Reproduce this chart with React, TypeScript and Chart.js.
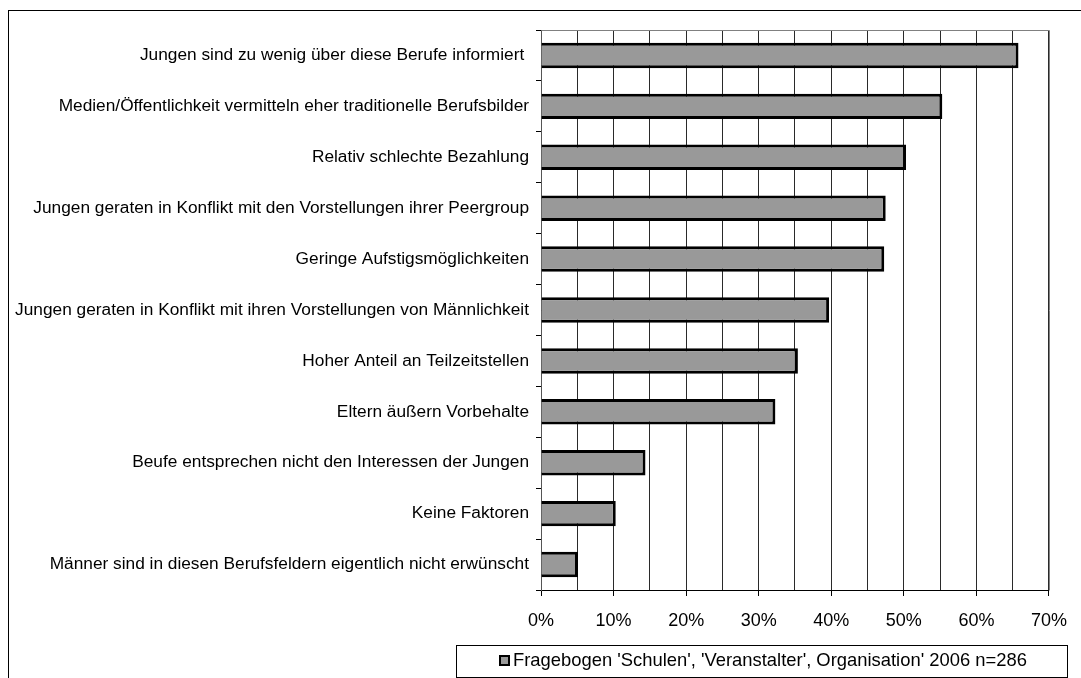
import React, { useEffect, useRef } from "react";
import { Chart, registerables } from "chart.js";

Chart.register(...registerables);

const categories = [
  "Jungen sind zu wenig über diese Berufe informiert ",
  "Medien/Öffentlichkeit vermitteln eher traditionelle Berufsbilder",
  "Relativ schlechte Bezahlung",
  "Jungen geraten in Konflikt mit den Vorstellungen ihrer Peergroup",
  "Geringe Aufstigsmöglichkeiten",
  "Jungen geraten in Konflikt mit ihren Vorstellungen von Männlichkeit",
  "Hoher Anteil an Teilzeitstellen",
  "Eltern äußern Vorbehalte",
  "Beufe entsprechen nicht den Interessen der Jungen",
  "Keine Faktoren",
  "Männer sind in diesen Berufsfeldern eigentlich nicht erwünscht",
];

const values = [65.8, 55.3, 50.3, 47.5, 47.3, 39.7, 35.4, 32.3, 14.4, 10.3, 5.1];

const seriesLabel = "Fragebogen 'Schulen', 'Veranstalter', Organisation' 2006 n=286";

const xMin = 0;
const xMax = 70;
const xStep = 5;

const FONT = "'Liberation Sans', Arial, sans-serif";

export default function App() {
  const ref = useRef<HTMLCanvasElement | null>(null);

  useEffect(() => {
    if (!ref.current) return;
    const framePlugin = {
      id: "frameAndLegend",
      afterDraw(chart: any) {
        const ctx = chart.ctx;
        const ca = chart.chartArea;
        ctx.save();
        // plot border top/right
        ctx.strokeStyle = "#808080";
        ctx.lineWidth = 1;
        ctx.beginPath();
        ctx.moveTo(Math.round(ca.left) + 0.5, Math.round(ca.top) + 0.5);
        ctx.lineTo(Math.round(ca.right) + 0.5, Math.round(ca.top) + 0.5);
        ctx.lineTo(Math.round(ca.right) + 0.5, Math.round(ca.bottom) + 0.5);
        ctx.stroke();
        // outer frame
        ctx.strokeStyle = "#000";
        ctx.strokeRect(0.5, 2.5, chart.width + 10, chart.height + 10);
        // legend
        const lx = 448, ly = 637, lw = 611, lh = 32;
        ctx.strokeStyle = "#000";
        ctx.strokeRect(lx + 0.5, ly + 0.5, lw, lh);
        ctx.fillStyle = "#999999";
        ctx.fillRect(491, 647, 11, 11);
        ctx.lineWidth = 2;
        ctx.strokeRect(492, 648, 9, 9);
        ctx.fillStyle = "#000";
        ctx.font = `18.4px ${FONT}`;
        ctx.textBaseline = "middle";
        ctx.textAlign = "left";
        ctx.fillText(seriesLabel, 505, 653);
        ctx.restore();
      },
    };

    const chart = new Chart(ref.current, {
      type: "bar",
      data: {
        labels: categories,
        datasets: [
          {
            label: seriesLabel,
            data: values,
            backgroundColor: "#999999",
            borderColor: "#000000",
            borderWidth: 3,
            barPercentage: 0.5,
            categoryPercentage: 1,
          },
        ],
      },
      options: {
        indexAxis: "y",
        animation: false,
        responsive: false,
        maintainAspectRatio: false,
        layout: { padding: { top: 22, right: 32, bottom: 0, left: 0 } },
        plugins: {
          legend: { display: false },
          tooltip: { enabled: false },
        },
        scales: {
          x: {
            min: xMin,
            max: xMax,
            ticks: {
              stepSize: xStep,
              autoSkip: false,
              maxRotation: 0,
              color: "#000",
              padding: 14,
              font: { family: FONT, size: 18 },
              callback: (v: any) => (Number(v) % 10 === 0 ? `${v}%` : ""),
            },
            grid: {
              color: "#2a2a2a",
              lineWidth: 1,
              tickLength: 6,
              tickColor: (c: any) =>
                c.tick && Number(c.tick.value) % 10 === 0 ? "#000" : "rgba(0,0,0,0)",
            },
            border: { color: "#000", width: 1 },
            afterFit: (s: any) => {
              s.height = 88;
            },
          },
          y: {
            ticks: {
              color: "#000",
              padding: 7,
              autoSkip: false,
              font: { family: FONT, size: 17.3 },
            },
            grid: {
              offset: true,
              drawOnChartArea: false,
              tickLength: 5,
              color: "#000",
            },
            border: { color: "#555", width: 1 },
            afterFit: (s: any) => {
              s.width = 533;
            },
          },
        },
      },
      plugins: [framePlugin],
    });
    return () => chart.destroy();
  }, []);

  return (
    <div style={{ position: "fixed", left: 8, top: 8, width: 1073, height: 670 }}>
      <canvas ref={ref} width={1073} height={670} style={{ width: 1073, height: 670 }} />
    </div>
  );
}
